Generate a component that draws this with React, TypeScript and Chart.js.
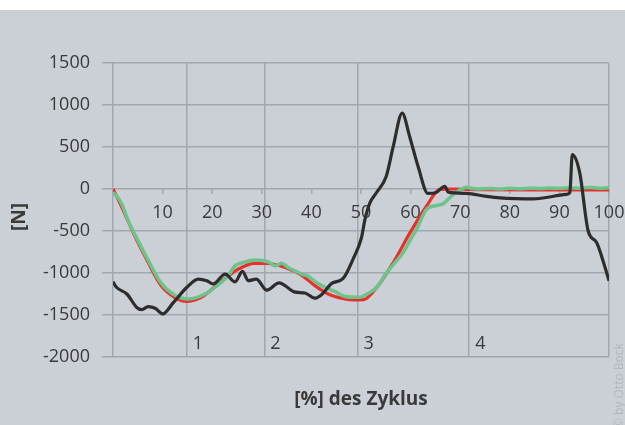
import React, { useEffect, useRef } from 'react';
import { Chart, registerables } from 'chart.js';

Chart.register(...registerables);

// ---- data ----
const redX = [0, 1.7, 4.4, 7.1, 9.7, 12.4, 14.8, 17.8, 21.2, 25.2, 28.6, 31.3, 34.7, 38, 40.7, 43.4, 46.8, 48.5, 50.5, 53.2, 56.5, 59.9, 63.2, 65.9, 68, 75, 85, 100];
const redY = [0, -205, -560, -875, -1150, -1290, -1337, -1290, -1130, -955, -885, -887, -935, -1025, -1150, -1250, -1310, -1320, -1318, -1170, -875, -520, -205, -5, 0, -8, -10, -10];

const greenX = [0, 0.8, 1.7, 3, 4.4, 7.1, 9.7, 12.4, 15.1, 17, 19.2, 21, 23.2, 24.6, 26.5, 28.6, 30, 31.3, 32.7, 34, 35.3, 36.7, 38, 39.4, 40.7, 42.1, 43.5, 44.8, 46.8, 49.5, 51.5, 53.2, 55.2, 56.8, 58.5, 60, 61.2, 63.2, 65.3, 66.6, 67.6, 68.6, 70, 71.3, 72.5, 73.3, 76, 78, 80, 82, 84, 86, 88, 90, 92, 94, 96, 98, 100];
const greenY = [-40, -90, -170, -370, -540, -850, -1120, -1262, -1310, -1290, -1230, -1150, -1035, -915, -870, -845, -850, -868, -915, -883, -935, -975, -1013, -1040, -1100, -1150, -1190, -1222, -1280, -1290, -1240, -1170, -993, -880, -757, -600, -480, -243, -196, -175, -120, -65, -10, 20, 5, 0, 5, 0, 8, 3, 10, 5, 12, 8, 15, 10, 18, 10, 15];

const blackX = [0, 0.7, 2.8, 4.8, 5.8, 7.1, 8.5, 10, 12.2, 14.9, 17.2, 18.9, 20.2, 22.6, 24.6, 26.1, 27.3, 28.9, 31, 33.5, 34.7, 36.5, 38.7, 40.7, 42.1, 44.1, 46.4, 48.4, 50.1, 50.8, 51.8, 53.1, 55.1, 56.5, 58.3, 59.8, 61.5, 63.5, 65, 66.9, 67.6, 71.3, 75, 78, 84.7, 91.4, 92.1, 92.6, 94.1, 95.8, 97.5, 98.9, 100];
const blackY = [-1105, -1170, -1250, -1410, -1435, -1400, -1420, -1487, -1350, -1170, -1072, -1092, -1131, -1013, -1105, -980, -1092, -1072, -1205, -1118, -1150, -1225, -1238, -1300, -1255, -1123, -1065, -835, -578, -362, -164, -45, 152, 507, 903, 626, 270, -53, -45, 33, -38, -53, -85, -105, -117, -65, -40, 409, 192, -500, -638, -875, -1092];

const xTickValues = [0, 10, 20, 30, 40, 50, 60, 70, 80, 90, 100];
const yTickValues = [1500, 1000, 500, 0, -500, -1000, -1500, -2000];
const phaseBounds = [0, 14.85, 30.5, 49.3, 71.8, 100];
const phaseLabels = ['1', '2', '3', '4'];
const xTitle = '[%] des Zyklus';
const yTitle = '[N]';
const watermark = '\u00A9 by Otto Bock';

const FONT = "'Open Sans', 'Noto Sans', sans-serif";
const GRID = '#a2a8af';
const TEXT = '#3a3a3a';
const BG = '#cbcfd6';

const toPts = (xs: number[], ys: number[]) => xs.map((x, i) => ({ x, y: ys[i] }));

export default function App() {
  const ref = useRef<HTMLCanvasElement | null>(null);

  useEffect(() => {
    if (!ref.current) return;

    const decor = {
      id: 'decor',
      beforeDraw(chart: any) {
        const { ctx, width, height } = chart;
        ctx.save();
        ctx.fillStyle = '#ffffff';
        ctx.fillRect(0, 0, width, height);
        ctx.fillStyle = BG;
        ctx.fillRect(0, 10, width, height - 10);
        ctx.restore();
      },
      afterDraw(chart: any) {
        const { ctx } = chart;
        const xs = chart.scales.xg;
        const ys = chart.scales.y;
        ctx.save();
        ctx.fillStyle = TEXT;
        ctx.font = `18px ${FONT}`;
        ctx.textAlign = 'left';
        ctx.textBaseline = 'middle';
        phaseLabels.forEach((lab, i) => {
          ctx.fillText(lab, xs.getPixelForValue(phaseBounds[i + 1]) + 6, ys.getPixelForValue(-2000) - 13);
        });
        // y title
        ctx.save();
        ctx.translate(20, 217);
        ctx.rotate(-Math.PI / 2);
        ctx.font = `bold 19px ${FONT}`;
        ctx.textAlign = 'center';
        ctx.fillText(yTitle, 0, 0);
        ctx.restore();
        // watermark
        ctx.save();
        ctx.translate(620, 428);
        ctx.rotate(-Math.PI / 2);
        ctx.font = `12px ${FONT}`;
        ctx.fillStyle = '#b3b8bf';
        ctx.textAlign = 'left';
        ctx.fillText(watermark, 0, 0);
        ctx.restore();
        ctx.restore();
      },
    };

    const chart = new Chart(ref.current, {
      type: 'line',
      data: {
        datasets: [
          { label: 'black', data: toPts(blackX, blackY), borderColor: '#2d2d2d', borderWidth: 3.2, pointRadius: 0, cubicInterpolationMode: 'monotone' },
          { label: 'green', data: toPts(greenX, greenY), borderColor: '#6cc48b', borderWidth: 3.5, pointRadius: 0, cubicInterpolationMode: 'monotone' },
          { label: 'red', data: toPts(redX, redY), borderColor: '#e8302c', borderWidth: 3.2, pointRadius: 0, cubicInterpolationMode: 'monotone' },
        ],
      },
      options: {
        responsive: false,
        animation: false,
        devicePixelRatio: 1,
        layout: { padding: { top: 63, right: 16, left: 0, bottom: 0 } },
        plugins: { legend: { display: false }, tooltip: { enabled: false } },
        scales: {
          xg: {
            type: 'linear',
            position: 'bottom',
            min: 0,
            max: 100,
            afterBuildTicks: (s: any) => { s.ticks = phaseBounds.map((v) => ({ value: v })); },
            afterFit: (s: any) => { s.height = 68; s.paddingLeft = 0; s.paddingRight = 0; },
            ticks: { display: false },
            grid: { color: GRID, lineWidth: 1.5, drawTicks: false },
            border: { display: false },
            title: { display: true, text: xTitle, color: TEXT, font: { family: FONT, size: 19, weight: 'bold' }, padding: { top: 0, bottom: 14 } },
          },
          x: {
            type: 'linear',
            position: { y: 0 },
            min: 0,
            max: 100,
            afterBuildTicks: (s: any) => { s.ticks = xTickValues.map((v) => ({ value: v })); },
            afterFit: (s: any) => { s.paddingLeft = 0; s.paddingRight = 0; },
            ticks: { color: TEXT, font: { family: FONT, size: 18 }, padding: 8, maxRotation: 0, callback: (v: any) => (v === 0 ? '' : String(v)) },
            grid: { drawOnChartArea: false, color: GRID, lineWidth: 1.5, tickLength: 5 },
            border: { display: false },
          },
          y: {
            type: 'linear',
            position: 'left',
            min: -2000,
            max: 1500,
            afterBuildTicks: (s: any) => { s.ticks = yTickValues.map((v) => ({ value: v })); },
            afterFit: (s: any) => { s.width = 113; s.paddingTop = 0; s.paddingBottom = 0; },
            ticks: { color: TEXT, font: { family: FONT, size: 18 }, padding: 12, callback: (v: any) => String(v) },
            grid: { color: GRID, lineWidth: 1.5, tickLength: 11 },
            border: { display: false },
          },
        },
      } as any,
      plugins: [decor],
    });
    return () => chart.destroy();
  }, []);

  return (
    <div style={{ position: 'fixed', left: 0, top: 0, width: 625, height: 425 }}>
      <canvas ref={ref} width={625} height={425} style={{ width: 625, height: 425, display: 'block' }} />
    </div>
  );
}
